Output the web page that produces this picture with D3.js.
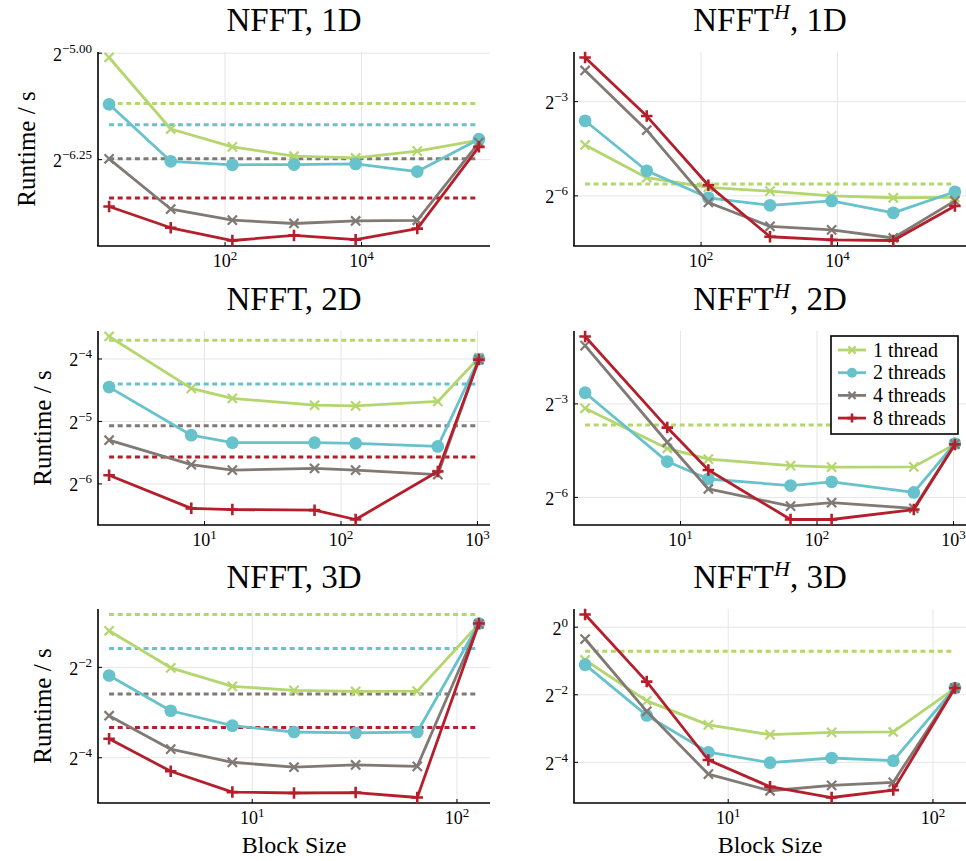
<!DOCTYPE html>
<html>
<head>
<meta charset="utf-8">
<script src="https://cdn.jsdelivr.net/npm/d3@7"></script>
<style>
  body { margin: 0; background: #fff; }
  text { font-family: "Liberation Serif", "Times New Roman", serif; fill: #000; }
</style>
</head>
<body>
<svg id="chart" width="966" height="861"></svg>
<script>
// thread counts, one series each
const threadLabels = ["1 thread", "2 threads", "4 threads", "8 threads"];
const threadColors = ["#b4d66e", "#67c2cc", "#807974", "#b41f2b"];
const threadMarkers = ["x", "circle", "x", "plus"];

const blockSizes1D = [2, 16, 128, 1024, 8192, 65536, 524288];
const blockSizes2D = [2, 8, 16, 64, 128, 512, 1024];
const blockSizes3D = [2, 4, 8, 16, 32, 64, 128];

// runtimes in seconds, rows = 1, 2, 4, 8 threads
const nfft1D = [
  [0.03018, 0.01686, 0.01458, 0.01351, 0.01332, 0.01408, 0.01541],
  [0.02062, 0.01296, 0.01260, 0.01262, 0.01269, 0.01192, 0.01552],
  [0.01323, 0.008789, 0.008032, 0.007813, 0.007976, 0.008020, 0.01509],
  [0.008973, 0.007546, 0.006802, 0.007091, 0.006849, 0.007494, 0.01458],
];
const nfft1DRef = [0.02076, 0.01746, 0.01323, 0.009619];

const adj1D = [
  [0.04803, 0.02336, 0.01884, 0.01734, 0.015625, 0.01499, 0.01509],
  [0.0819, 0.02721, 0.01499, 0.01269, 0.01399, 0.01075, 0.0171],
  [0.2483, 0.06653, 0.01351, 0.007976, 0.007391, 0.006172, 0.01399],
  [0.3308, 0.09087, 0.01978, 0.006346, 0.005921, 0.005839, 0.01252],
];
const adj1DRef = [0.02033];

const nfft2D = [
  [0.08022, 0.04512, 0.04039, 0.03742, 0.03716, 0.03901, 0.06338],
  [0.04575, 0.02683, 0.02469, 0.02469, 0.02452, 0.02368, 0.0625],
  [0.02538, 0.01937, 0.0182, 0.01858, 0.0182, 0.01734, 0.06207],
  [0.01722, 0.01192, 0.01176, 0.01168, 0.01053, 0.01795, 0.06207],
];
const nfft2DRef = [0.07695, 0.04737, 0.02977, 0.02105];

const adj2D = [
  [0.1134, 0.04639, 0.03665, 0.03169, 0.03061, 0.03082, 0.05112],
  [0.1604, 0.03467, 0.02352, 0.02033, 0.0221, 0.01746, 0.05183],
  [0.4569, 0.05329, 0.01884, 0.01287, 0.01389, 0.01226, 0.05112],
  [0.5602, 0.07381, 0.02875, 0.009553, 0.009553, 0.01192, 0.05077],
];
const adj2DRef = [0.07802];

const nfft3D = [
  [0.4383, 0.2483, 0.1869, 0.1756, 0.1731, 0.1735, 0.4863],
  [0.2207, 0.1285, 0.1022, 0.09278, 0.0915, 0.09278, 0.4897],
  [0.1191, 0.07129, 0.05831, 0.05404, 0.05594, 0.05479, 0.4863],
  [0.08363, 0.05077, 0.03691, 0.03639, 0.03665, 0.03396, 0.4897],
];
const nfft3DRef = [0.5625, 0.3345, 0.1661, 0.09945];

const adj3D = [
  [0.5105, 0.2207, 0.1349, 0.1103, 0.1158, 0.1166, 0.2852],
  [0.4633, 0.1638, 0.07695, 0.06207, 0.06839, 0.0647, 0.2872],
  [0.7846, 0.178, 0.04904, 0.03492, 0.03901, 0.04153, 0.2872],
  [1.2977, 0.3276, 0.06561, 0.03794, 0.0304, 0.0354, 0.2872],
];
const adj3DRef = [0.6113];

// tick positions (x: block size, y: exponent of 2)
const xTicks1D = [100, 10000];
const xTicks2D = [10, 100, 1000];
const xTicks3D = [10, 100];
const yTicksNfft1D = [-6.25, -5.00];
const yTicksAdj1D = [-6, -3];
const yTicksNfft2D = [-6, -5, -4];
const yTicksAdj2D = [-6, -3];
const yTicksNfft3D = [-4, -2];
const yTicksAdj3D = [-4, -2, 0];

const panels = [
  { adj: false, dim: "1D", x: blockSizes1D, y: nfft1D, ref: nfft1DRef, xTicks: xTicks1D, yTicks: yTicksNfft1D, yDigits: 2 },
  { adj: true,  dim: "1D", x: blockSizes1D, y: adj1D,  ref: adj1DRef,  xTicks: xTicks1D, yTicks: yTicksAdj1D,  yDigits: 0 },
  { adj: false, dim: "2D", x: blockSizes2D, y: nfft2D, ref: nfft2DRef, xTicks: xTicks2D, yTicks: yTicksNfft2D, yDigits: 0 },
  { adj: true,  dim: "2D", x: blockSizes2D, y: adj2D,  ref: adj2DRef,  xTicks: xTicks2D, yTicks: yTicksAdj2D,  yDigits: 0, legend: true },
  { adj: false, dim: "3D", x: blockSizes3D, y: nfft3D, ref: nfft3DRef, xTicks: xTicks3D, yTicks: yTicksNfft3D, yDigits: 0 },
  { adj: true,  dim: "3D", x: blockSizes3D, y: adj3D,  ref: adj3DRef,  xTicks: xTicks3D, yTicks: yTicksAdj3D,  yDigits: 0 },
];

const colLeft = [98, 574];
const rowTop = [52, 331, 609];
const plotW = 392;
const plotH = 194;
const gridColor = "#e6e6e6";

const svg = d3.select("#chart");

// log domain widened by 3% on both sides
function paddedLog(vals, base) {
  const l = vals.map((v) => Math.log(v) / Math.log(base));
  const [a, b] = d3.extent(l);
  const p = (b - a) * 0.03;
  return [Math.pow(base, a - p), Math.pow(base, b + p)];
}

function supLabel(sel, base, exp, baseSize, supSize, dy) {
  sel.append("tspan").style("font-size", baseSize + "px").text(base);
  sel.append("tspan").style("font-size", supSize + "px").attr("dy", dy).text(exp);
}

function drawMarker(g, type, color, cx, cy, s) {
  if (type === "circle") {
    g.append("circle").attr("cx", cx).attr("cy", cy).attr("r", s * 1.38).attr("fill", color);
  } else if (type === "x") {
    g.append("path")
      .attr("d", `M${cx - s},${cy - s}L${cx + s},${cy + s}M${cx - s},${cy + s}L${cx + s},${cy - s}`)
      .attr("stroke", color).attr("stroke-width", 2.2).attr("fill", "none");
  } else {
    const t = s * 1.25;
    g.append("path")
      .attr("d", `M${cx - t},${cy}L${cx + t},${cy}M${cx},${cy - t}L${cx},${cy + t}`)
      .attr("stroke", color).attr("stroke-width", 2.6).attr("fill", "none");
  }
}

const minus = (s) => s.replace("-", "\u2212");

panels.forEach((p, i) => {
  const col = i % 2;
  const row = Math.floor(i / 2);
  const x0 = colLeft[col];
  const y0 = rowTop[row];

  const allY = p.y.flat().concat(p.ref);
  const xScale = d3.scaleLog().domain(paddedLog(p.x, 10)).range([x0, x0 + plotW]);
  const yScale = d3.scaleLog().base(2).domain(paddedLog(allY, 2)).range([y0 + plotH, y0]);
  const yPos = (e) => yScale(Math.pow(2, e));

  const g = svg.append("g");

  // grid
  g.selectAll(".vgrid").data(p.xTicks).join("line")
    .attr("x1", (d) => xScale(d)).attr("x2", (d) => xScale(d))
    .attr("y1", y0).attr("y2", y0 + plotH)
    .attr("stroke", gridColor).attr("stroke-width", 1);
  g.selectAll(".hgrid").data(p.yTicks).join("line")
    .attr("x1", x0).attr("x2", x0 + plotW)
    .attr("y1", (d) => yPos(d)).attr("y2", (d) => yPos(d))
    .attr("stroke", gridColor).attr("stroke-width", 1);

  // axes and inward ticks
  g.append("line").attr("x1", x0).attr("x2", x0).attr("y1", y0).attr("y2", y0 + plotH)
    .attr("stroke", "#000").attr("stroke-width", 1.6);
  g.append("line").attr("x1", x0 - 0.8).attr("x2", x0 + plotW).attr("y1", y0 + plotH).attr("y2", y0 + plotH)
    .attr("stroke", "#000").attr("stroke-width", 1.6);
  g.selectAll(".xt").data(p.xTicks).join("line")
    .attr("x1", (d) => xScale(d)).attr("x2", (d) => xScale(d))
    .attr("y1", y0 + plotH).attr("y2", y0 + plotH - 4)
    .attr("stroke", "#000").attr("stroke-width", 1);
  g.selectAll(".yt").data(p.yTicks).join("line")
    .attr("x1", x0).attr("x2", x0 + 4)
    .attr("y1", (d) => yPos(d)).attr("y2", (d) => yPos(d))
    .attr("stroke", "#000").attr("stroke-width", 1);

  // tick labels
  p.xTicks.forEach((t) => {
    const txt = g.append("text").attr("x", xScale(t)).attr("y", y0 + plotH + 21).attr("text-anchor", "middle");
    supLabel(txt, "10", String(Math.round(Math.log10(t))), 18, 13, -7);
  });
  const yLabels = g.append("g");
  p.yTicks.forEach((t) => {
    const txt = yLabels.append("text").attr("x", x0 - 6).attr("y", yPos(t) + 7.5).attr("text-anchor", "end");
    supLabel(txt, "2", minus(t.toFixed(p.yDigits)), 18, 13, -8);
  });

  // title
  const title = g.append("text").attr("x", x0 + plotW / 2).attr("y", y0 - 21.5)
    .attr("text-anchor", "middle").style("font-size", "33px");
  title.append("tspan").text("NFFT");
  if (p.adj) {
    title.append("tspan").attr("dy", -12).style("font-size", "22px").style("font-style", "italic").text("H");
    title.append("tspan").attr("dy", 12).text(", " + p.dim);
  } else {
    title.append("tspan").text(", " + p.dim);
  }

  // axis guides
  if (col === 0) {
    const bb = yLabels.node().getBBox();
    g.append("text")
      .attr("transform", `translate(${bb.x - 18},${y0 + plotH / 2}) rotate(-90)`)
      .attr("text-anchor", "middle").style("font-size", "25px").text("Runtime / s");
  }
  if (row === 2) {
    g.append("text").attr("x", x0 + plotW / 2).attr("y", 853)
      .attr("text-anchor", "middle").style("font-size", "24px").text("Block Size");
  }

  // reference runtimes (dashed)
  const xMin = d3.min(p.x), xMax = d3.max(p.x);
  g.selectAll(".ref").data(p.ref).join("line")
    .attr("x1", xScale(xMin)).attr("x2", xScale(xMax))
    .attr("y1", (d) => yScale(d)).attr("y2", (d) => yScale(d))
    .attr("stroke", (d, k) => threadColors[k])
    .attr("stroke-width", 3).attr("stroke-dasharray", "5,3.6");

  // series
  const line = d3.line().x((d) => xScale(d[0])).y((d) => yScale(d[1]));
  p.y.forEach((vals, k) => {
    const pts = p.x.map((b, j) => [b, vals[j]]);
    g.append("path").attr("d", line(pts)).attr("fill", "none")
      .attr("stroke", threadColors[k]).attr("stroke-width", 2.8).attr("stroke-linejoin", "round");
    pts.forEach((d) => drawMarker(g, threadMarkers[k], threadColors[k], xScale(d[0]), yScale(d[1]), 4.6));
  });

  // legend
  if (p.legend) {
    const lw = 127, lh = 98;
    const lx = x0 + plotW - 8 - lw, ly = y0 + 5;
    const lg = g.append("g");
    lg.append("rect").attr("x", lx).attr("y", ly).attr("width", lw).attr("height", lh)
      .attr("fill", "#fff").attr("stroke", "#000").attr("stroke-width", 1.6);
    threadLabels.forEach((lab, k) => {
      const cy = ly + 14 + k * 22.7;
      lg.append("line").attr("x1", lx + 7).attr("x2", lx + 35).attr("y1", cy).attr("y2", cy)
        .attr("stroke", threadColors[k]).attr("stroke-width", 2.8);
      drawMarker(lg, threadMarkers[k], threadColors[k], lx + 21, cy, 3.6);
      lg.append("text").attr("x", lx + 42).attr("y", cy + 6.5).style("font-size", "20px").text(lab);
    });
  }
});
</script>
</body>
</html>
